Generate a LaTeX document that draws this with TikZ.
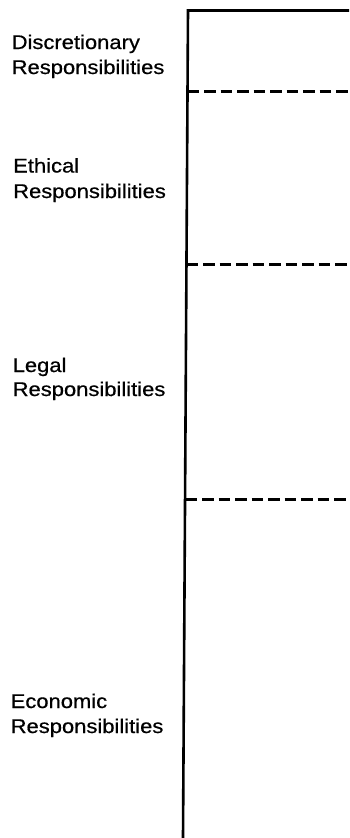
\documentclass[tikz,border=0pt]{standalone}
\usepackage{fontspec}
\setmainfont{Liberation Sans}[FakeStretch=1.11,FakeBold=0.6]
\begin{document}
\begin{tikzpicture}[x=1pt,y=-1pt,
  lbl/.style={anchor=base west,inner sep=0pt,font=\fontsize{19.8}{25}\selectfont},
  frame/.style={line width=2.6pt},
  level/.style={line width=3pt,dash pattern=on 11.5pt off 5pt}]
\useasboundingbox (0,0) rectangle (349,838);
% frame corners
\coordinate (tl) at (188,10.5);
\coordinate (tr) at (349,10.5);
\coordinate (bl) at (183,838);
\draw[frame] (tr) -- (tl) -- (bl);
% level lines
\coordinate (d1a) at (187.5,91.5);  \coordinate (d1b) at (349,91.5);
\coordinate (d2a) at (186.5,264.5); \coordinate (d2b) at (349,264.5);
\coordinate (d3a) at (185.5,499.5); \coordinate (d3b) at (349,499.5);
\draw[level] (d1a) -- (d1b);
\draw[level] (d2a) -- (d2b);
\draw[level] (d3a) -- (d3b);
% labels
\node[lbl] (disc1) at (11.5,49) {Discretionary};
\node[lbl] (disc2) at (11.5,74) {Responsibilities};
\node[lbl] (eth1) at (13,172.5) {Ethical};
\node[lbl] (eth2) at (13,198) {Responsibilities};
\node[lbl] (leg1) at (12.5,372) {Legal};
\node[lbl] (leg2) at (12.5,396) {Responsibilities};
\node[lbl] (eco1) at (10.5,708) {Economic};
\node[lbl] (eco2) at (10.5,733) {Responsibilities};
\end{tikzpicture}
\end{document}
